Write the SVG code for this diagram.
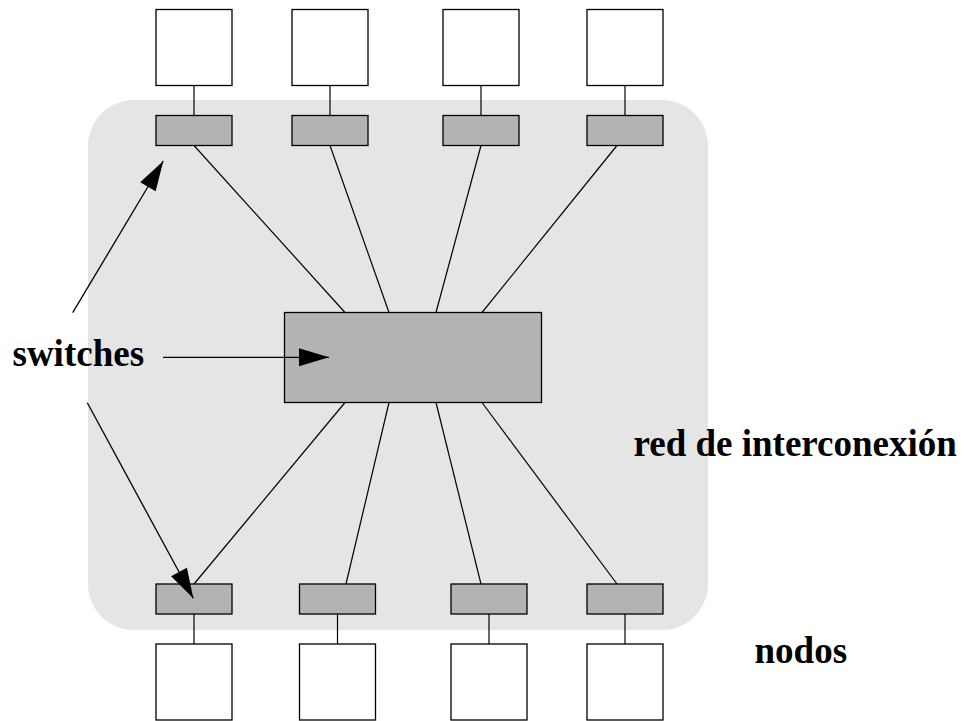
<svg xmlns="http://www.w3.org/2000/svg" width="965" height="721" viewBox="0 0 965 721">
  <style>
    .node { fill: #ffffff; stroke: #000000; stroke-width: 1.3; }
    .switch { fill: #b3b3b3; stroke: #000000; stroke-width: 1.3; }
    .wire { stroke: #000000; stroke-width: 1.2; fill: none; }
    .pointer { stroke: #000000; stroke-width: 1.3; fill: none; marker-end: url(#head); }
    .label { font-family: "Liberation Serif", "Times New Roman", serif; font-weight: bold; font-size: 37px; fill: #000000; }
  </style>
  <defs>
    <marker id="head" markerUnits="userSpaceOnUse" markerWidth="30" markerHeight="18" refX="30" refY="9" orient="auto" overflow="visible">
      <path d="M0,0 L30,9 L0,18 Z" fill="#000000"/>
    </marker>
  </defs>

  <rect width="965" height="721" fill="#ffffff"/>

  <!-- interconnection network area -->
  <g id="network">
    <rect x="88" y="100" width="620" height="530" rx="46" ry="46" fill="#e5e5e5"/>
  </g>

  <!-- connectors -->
  <g id="connectors">
    <!-- node to switch links, top -->
    <line class="wire" x1="194" y1="85.5" x2="194" y2="115.5"/>
    <line class="wire" x1="330" y1="85.5" x2="330" y2="115.5"/>
    <line class="wire" x1="481" y1="85.5" x2="481" y2="115.5"/>
    <line class="wire" x1="625" y1="85.5" x2="625" y2="115.5"/>
    <!-- switch to central switch, top -->
    <line class="wire" x1="194" y1="145.5" x2="345" y2="312.5"/>
    <line class="wire" x1="330" y1="145.5" x2="389" y2="312.5"/>
    <line class="wire" x1="481" y1="145.5" x2="436" y2="312.5"/>
    <line class="wire" x1="617" y1="145.5" x2="482" y2="312.5"/>
    <!-- central switch to switch, bottom -->
    <line class="wire" x1="345" y1="402.5" x2="194" y2="584"/>
    <line class="wire" x1="389" y1="402.5" x2="346" y2="584"/>
    <line class="wire" x1="436" y1="402.5" x2="481" y2="584"/>
    <line class="wire" x1="482" y1="402.5" x2="617" y2="584"/>
    <!-- switch to node links, bottom -->
    <line class="wire" x1="194" y1="614" x2="194" y2="644"/>
    <line class="wire" x1="337.5" y1="614" x2="337.5" y2="644"/>
    <line class="wire" x1="489" y1="614" x2="489" y2="644"/>
    <line class="wire" x1="625" y1="614" x2="625" y2="644"/>
  </g>

  <!-- top nodes -->
  <g id="node-top-1"><rect class="node" x="156" y="9.5" width="76" height="76"/></g>
  <g id="node-top-2"><rect class="node" x="292" y="9.5" width="76" height="76"/></g>
  <g id="node-top-3"><rect class="node" x="443" y="9.5" width="76" height="76"/></g>
  <g id="node-top-4"><rect class="node" x="587" y="9.5" width="76" height="76"/></g>

  <!-- top switches -->
  <g id="switch-top-1"><rect class="switch" x="156" y="115.5" width="76" height="30"/></g>
  <g id="switch-top-2"><rect class="switch" x="292" y="115.5" width="76" height="30"/></g>
  <g id="switch-top-3"><rect class="switch" x="443" y="115.5" width="76" height="30"/></g>
  <g id="switch-top-4"><rect class="switch" x="587" y="115.5" width="76" height="30"/></g>

  <!-- central switch -->
  <g id="switch-central"><rect class="switch" x="284.5" y="312.5" width="257" height="90"/></g>

  <!-- bottom switches -->
  <g id="switch-bottom-1"><rect class="switch" x="156" y="584" width="76" height="30"/></g>
  <g id="switch-bottom-2"><rect class="switch" x="299.5" y="584" width="76" height="30"/></g>
  <g id="switch-bottom-3"><rect class="switch" x="451" y="584" width="76" height="30"/></g>
  <g id="switch-bottom-4"><rect class="switch" x="587" y="584" width="76" height="30"/></g>

  <!-- bottom nodes -->
  <g id="node-bottom-1"><rect class="node" x="156" y="644" width="76" height="76"/></g>
  <g id="node-bottom-2"><rect class="node" x="299.5" y="644" width="76" height="76"/></g>
  <g id="node-bottom-3"><rect class="node" x="451" y="644" width="76" height="76"/></g>
  <g id="node-bottom-4"><rect class="node" x="587" y="644" width="76" height="76"/></g>

  <!-- labels and pointers -->
  <g id="label-switches">
    <text class="label" x="12.5" y="365.5">switches</text>
    <line class="pointer" x1="72.7" y1="312.7" x2="163.3" y2="161"/>
    <line class="pointer" x1="163" y1="357.3" x2="329" y2="357.3"/>
    <line class="pointer" x1="87.3" y1="402.7" x2="193.3" y2="598.3"/>
  </g>
  <g id="label-network">
    <text class="label" x="633.5" y="455.5">red de interconexión</text>
  </g>
  <g id="label-nodes">
    <text class="label" x="754.5" y="662.5">nodos</text>
  </g>
</svg>
